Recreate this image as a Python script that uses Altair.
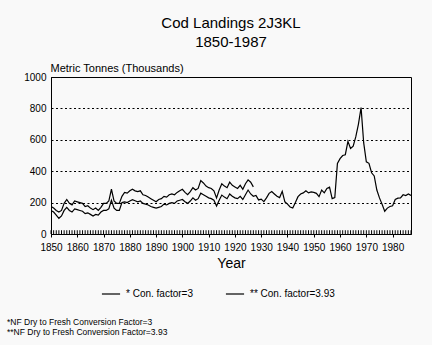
import altair as alt
import pandas as pd

FONT = "Liberation Sans"

years_low = list(range(1850, 1988))
values_low = [
    150, 140, 120, 100, 115, 150, 170, 150, 140, 160,   # 1850s
    155, 150, 145, 130, 135, 125, 115, 125, 120, 140,   # 1860s
    150, 150, 160, 215, 165, 150, 150, 200, 205, 200,   # 1870s
    210, 218, 212, 205, 210, 195, 190, 185, 175, 170,   # 1880s
    165, 170, 175, 190, 185, 195, 200, 195, 210, 215,   # 1890s
    220, 205, 195, 210, 230, 215, 225, 260, 250, 240,   # 1900s
    230, 225, 215, 178, 215, 248, 235, 225, 255, 240,   # 1910s
    230, 225, 240, 220, 250, 280, 255, 240, 245, 217,   # 1920s
    222, 206, 230, 259, 270, 255, 240, 232, 272, 205,   # 1930s
    190, 172, 165, 200, 238, 255, 262, 276, 262, 268,   # 1940s
    265, 259, 238, 280, 262, 290, 298, 225, 232, 450,   # 1950s
    480, 500, 505, 590, 545, 560, 620, 700, 805, 580,   # 1960s
    460, 450, 390, 370, 280, 230, 190, 145, 165, 175,   # 1970s
    180, 220, 228, 230, 250, 245, 255, 245,             # 1980s
]

years_high = list(range(1850, 1928))
values_high = [
    175, 165, 150, 140, 150, 195, 220, 195, 185, 210,   # 1850s
    205, 200, 195, 175, 180, 165, 155, 165, 150, 170,   # 1860s
    195, 195, 210, 285, 210, 195, 195, 240, 265, 260,   # 1870s
    275, 285, 275, 270, 275, 250, 245, 235, 225, 215,   # 1880s
    205, 220, 225, 240, 235, 250, 255, 250, 265, 275,   # 1890s
    285, 265, 250, 270, 295, 280, 290, 340, 325, 305,   # 1900s
    295, 290, 275, 230, 280, 320, 305, 295, 330, 310,   # 1910s
    300, 290, 310, 285, 320, 345, 330, 300,             # 1920s
]

series_names = ["* Con. factor=3", "** Con. factor=3.93"]
y_ticks = [0, 200, 400, 600, 800, 1000]
x_labels = list(range(1850, 1990, 10))
footnotes = "*NF Dry to Fresh Conversion Factor=3\n**NF Dry to Fresh Conversion Factor=3.93"
title_lines = ["Cod Landings 2J3KL", "1850-1987"]

df = pd.concat([
    pd.DataFrame({"year": years_low, "value": values_low, "series": series_names[0]}),
    pd.DataFrame({"year": years_high, "value": values_high, "series": series_names[1]}),
])
ticks_df = pd.DataFrame({"year": list(range(1850, 1988)), "y0": 0, "y1": 24})
foot_df = pd.DataFrame({"t": [footnotes]})

xscale = alt.Scale(domain=[1850, 1987], nice=False, zero=False)
yscale = alt.Scale(domain=[0, 1000], nice=False, zero=True)

xaxis = alt.Axis(values=x_labels, format="d", title="Year", grid=False, labelOverlap=False,
                 labelFlush=False, tickSize=3, tickColor="black", domainColor="black",
                 labelFont=FONT, labelFontSize=10, labelColor="black",
                 labelPadding=5, titleFont=FONT, titleFontSize=14,
                 titleFontWeight="normal", titleColor="black", titlePadding=4)
yaxis = alt.Axis(values=y_ticks, format="d", title="Metric Tonnes (Thousands)", grid=True,
                 labelOverlap=False, labelFlush=False,
                 gridDash=[2, 2.5], gridColor="black", gridWidth=1.1, gridOpacity=1,
                 ticks=False, domainColor="black",
                 labelFont=FONT, labelFontSize=10, labelColor="black", labelPadding=5,
                 titleFont=FONT, titleFontSize=11, titleFontWeight="normal",
                 titleColor="black", titleAngle=0, titleAlign="left",
                 titleBaseline="alphabetic", titleX=-1, titleY=-6)

yearticks = alt.Chart(ticks_df).mark_rule(color="black", strokeWidth=1).encode(
    x=alt.X("year:Q", scale=xscale, axis=xaxis),
    y=alt.Y("y0:Q", scale=yscale, axis=yaxis),
    y2="y1:Q",
)

lines = alt.Chart(df).mark_line(strokeWidth=1.2, clip=True).encode(
    x=alt.X("year:Q", scale=xscale, axis=xaxis),
    y=alt.Y("value:Q", scale=yscale, axis=yaxis),
    color=alt.Color("series:N",
                    scale=alt.Scale(domain=series_names, range=["black", "black"]),
                    legend=alt.Legend(title=None, orient="none", legendX=50, legendY=207,
                                      direction="horizontal", symbolType="stroke",
                                      symbolSize=330, symbolStrokeWidth=1.2,
                                      labelFont=FONT, labelFontSize=10, labelColor="black",
                                      columnPadding=30, labelOffset=5)),
)

foot = alt.Chart(foot_df).mark_text(
    align="left", baseline="middle", font=FONT, fontSize=8.5, lineBreak="\n",
    lineHeight=10, color="black"
).encode(x=alt.value(-44), y=alt.value(245), text="t:N")

chart = alt.layer(yearticks, lines, foot).properties(
    width=360, height=157,
    padding={"left": 51, "top": 77, "right": 21, "bottom": 111},
    autosize=alt.AutoSizeParams(type="none"),
    background="#f9f9f9",
    title=alt.TitleParams(text=title_lines, font=FONT, fontSize=15, fontWeight="normal",
                          color="black", anchor="middle", lineHeight=19, offset=12),
).configure_view(stroke="black", strokeWidth=1)

chart.save("out.html", embed_options={"renderer": "svg", "actions": False})
